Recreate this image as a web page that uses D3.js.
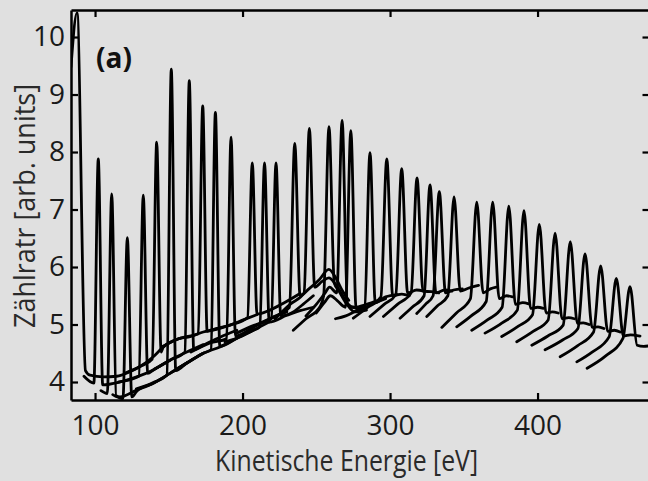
<!DOCTYPE html>
<html>
<head>
<meta charset="utf-8">
<script src="https://cdn.jsdelivr.net/npm/d3@7"></script>
<style>
    body { margin: 0; background: #e0e0e0; }
    text { font-family: "Open Sans", sans-serif; }
</style>
</head>
<body>
<div id="chart"></div>
<script>
// tick values
const xTicks = [100, 200, 300, 400];
const yTicks = [4, 5, 6, 7, 8, 9, 10];

// spectra: [kinetic energy (eV), count rate]
const lowSpectra = [
    [[83.7, 9.48], [87.8, 10.42], [93.5, 4.2], [96.6, 4.12], [105.6, 4.09], [114.7, 4.1], [123.7, 4.18], [130.5, 4.27], [139.5, 4.44], [146.3, 4.61], [157.6, 4.76]],
    [[92.5, 4.1], [99.2, 3.98], [102.2, 7.88], [105.2, 3.95], [116.9, 4.0], [128.3, 4.09], [139.5, 4.21], [150.8, 4.38]],
    [[104, 3.85], [108.3, 3.8], [111.3, 7.27], [114.3, 3.76], [116.9, 3.74], [128.3, 3.86], [139.5, 3.98], [150.8, 4.15], [162.2, 4.33]],
    [[112, 3.78], [118.9, 3.71], [121.9, 6.51], [124.9, 3.74], [128.3, 3.84], [139.5, 3.98], [150.8, 4.15], [162.2, 4.33], [173.4, 4.5]],
    [[116, 4.0], [129.7, 4.1], [132.7, 7.25], [135.7, 4.15], [139.5, 4.21], [150.8, 4.38], [162.2, 4.52], [173.4, 4.65]],
    [[120, 4.15], [130.5, 4.27], [138.8, 4.4], [141.8, 8.17], [144.8, 4.52], [146.3, 4.61], [157.6, 4.76], [164.4, 4.79], [173.4, 4.87], [182.5, 4.93]],
    [[128, 3.88], [139.5, 3.99], [148.7, 4.12], [151.7, 9.44], [154.7, 4.2], [162.2, 4.33], [173.4, 4.5], [184.7, 4.61], [196.1, 4.76]],
    [[140, 4.22], [150.8, 4.38], [160.9, 4.52], [163.9, 9.24], [166.9, 4.56], [173.4, 4.64], [184.7, 4.78], [196.1, 4.9]],
    [[146, 4.62], [157.6, 4.76], [170, 4.84], [173, 8.8], [176, 4.88], [182.5, 4.93], [191.5, 4.99], [200.5, 5.08], [209.6, 5.17]],
    [[155, 4.22], [162.2, 4.33], [173.4, 4.5], [178.6, 4.56], [181.6, 8.69], [184.6, 4.62], [196.1, 4.76], [207.3, 4.9], [218.6, 5.05]],
    [[165, 4.52], [178, 4.68], [189.2, 4.75], [192.2, 8.26], [195.2, 4.8], [207.3, 4.95], [218.6, 5.1], [230, 5.22]],
    [[180, 4.9], [191.5, 4.99], [203.4, 5.12], [206.6, 7.81], [209.8, 5.18], [218.6, 5.25], [227.7, 5.37], [239, 5.54]],
    [[188, 4.7], [196.1, 4.76], [207.3, 4.9], [211.7, 4.96], [214.9, 7.81], [218.1, 5.04], [230, 5.16], [239, 5.24], [248, 5.3]],
    [[196, 4.85], [207.3, 4.98], [219.5, 5.1], [222.7, 7.81], [225.9, 5.15], [234.4, 5.22], [241, 5.35], [248, 5.5]]
];

const midSpectra = [
    [[210, 5.0], [220, 5.12], [231.8, 5.3], [235.4, 8.15], [239, 5.5], [245, 5.62], [252, 5.78], [258.5, 5.96], [263, 5.82], [267, 5.62], [272, 5.42]],
    [[222, 5.1], [232.2, 5.35], [241.7, 5.55], [245.3, 8.41], [248.9, 5.65], [254, 5.75], [258.5, 5.81], [263, 5.7], [268, 5.5], [274, 5.3], [282, 5.28]],
    [[234.4, 4.9], [243, 5.1], [252.5, 5.31], [255, 5.5], [258.6, 8.44], [262.2, 5.72], [265, 5.6], [270, 5.38], [276, 5.22], [284, 5.25]],
    [[243, 5.15], [250, 5.35], [256, 5.55], [259, 5.65], [263.9, 5.55], [267.5, 8.55], [271.1, 5.35], [276, 5.3], [284, 5.35], [292, 5.42]],
    [[250, 5.2], [256, 5.4], [259.5, 5.5], [264, 5.42], [269.8, 5.3], [273.4, 8.37], [277, 5.28], [283, 5.3], [290, 5.38], [297, 5.45]],
    [[263, 5.1], [270, 5.15], [278, 5.25], [282.8, 5.3], [286.4, 7.99], [290, 5.38], [297, 5.48], [305, 5.52]]
];

const highSpectra = [
    [[275.1, 5.11], [285, 5.3], [293.8, 5.48], [297.8, 7.88], [301.8, 5.5], [308, 5.53], [313, 5.5]],
    [[286.4, 5.14], [296, 5.35], [303.9, 5.52], [307.9, 7.71], [311.9, 5.55], [318, 5.6], [323, 5.58]],
    [[295.5, 5.14], [305, 5.35], [314.3, 5.55], [318.3, 7.55], [322.3, 5.58], [328, 5.57], [333, 5.55]],
    [[306.8, 5.11], [315, 5.3], [323.1, 5.5], [327.1, 7.43], [331.1, 5.55], [337, 5.6], [342, 5.58]],
    [[318.1, 5.19], [324, 5.35], [329.2, 5.5], [333.4, 7.31], [337.6, 5.55], [343, 5.6], [349, 5.62]],
    [[324.9, 5.14], [332, 5.32], [339.2, 5.5], [343.4, 7.22], [347.6, 5.58], [353, 5.63], [360, 5.68]],
    [[335.1, 4.95], [345, 5.2], [354.5, 5.45], [358.8, 7.13], [363.1, 5.55], [368, 5.62], [372, 5.65]],
    [[345.2, 4.96], [355, 5.15], [365.2, 5.4], [369.6, 7.13], [374, 5.45], [379, 5.5], [383, 5.48]],
    [[355.4, 4.9], [366, 5.08], [376, 5.3], [380.5, 7.06], [385, 5.35], [390, 5.38], [394, 5.36]],
    [[364.4, 4.85], [376, 5.03], [386.3, 5.25], [390.8, 6.98], [395.3, 5.28], [400, 5.3], [404, 5.28]],
    [[375.7, 4.79], [387, 4.97], [396.6, 5.17], [401.2, 6.74], [405.8, 5.2], [410, 5.22], [414, 5.2]],
    [[385.9, 4.7], [397, 4.88], [407.2, 5.08], [411.9, 6.59], [416.6, 5.1], [421, 5.12], [425, 5.1]],
    [[396.1, 4.64], [407, 4.8], [417.4, 4.99], [422.2, 6.44], [427, 5.02], [431, 5.03], [435, 5.0]],
    [[405.1, 4.56], [417, 4.73], [427.4, 4.93], [432.2, 6.23], [437, 4.95], [441, 4.96], [445, 4.93]],
    [[415.3, 4.44], [427, 4.63], [438, 4.87], [442.8, 6.02], [447.6, 4.88], [452, 4.9], [456, 4.87]],
    [[426.6, 4.35], [437, 4.52], [448.6, 4.79], [453.4, 5.8], [458.2, 4.8], [463, 4.82], [469.5, 4.8]],
    [[433.6, 4.24], [446, 4.45], [457.9, 4.76], [462.7, 5.66], [467.5, 4.64], [472, 4.62], [476, 4.63]]
];

const width = 648;
const height = 481;
const plot = { left: 71, top: 10, right: 649.5, bottom: 400 };

const svg = d3.select('#chart')
    .append('svg')
    .attr('width', width)
    .attr('height', height)
    .style('display', 'block')
    .style('background', '#e0e0e0');

const xScale = d3.scaleLinear()
    .domain([83.7, 475.9])
    .range([plot.left, plot.right]);

const yScale = d3.scaleLinear()
    .domain([3.687, 10.47])
    .range([plot.bottom, plot.top]);

/* clip so the spectra stay inside the frame */
svg.append('clipPath')
    .attr('id', 'plot-clip')
    .append('rect')
    .attr('x', plot.left)
    .attr('y', plot.top)
    .attr('width', plot.right - plot.left)
    .attr('height', plot.bottom - plot.top);

const line = d3.line()
    .x(d => xScale(d[0]))
    .y(d => yScale(d[1]))
    .curve(d3.curveMonotoneX);

svg.append('g')
    .attr('clip-path', 'url(#plot-clip)')
    .selectAll('path')
    .data(lowSpectra.concat(midSpectra, highSpectra))
    .enter()
    .append('path')
    .attr('d', line)
    .attr('fill', 'none')
    .attr('stroke', '#000')
    .attr('stroke-width', 2.8)
    .attr('stroke-linejoin', 'round')
    .attr('stroke-linecap', 'round');

/* axes, ticks pointing inwards */
function styleAxis(g) {
    g.select('.domain').attr('stroke', '#000').attr('stroke-width', 2.5);
    g.selectAll('.tick line').attr('stroke', '#000').attr('stroke-width', 2.2);
    g.selectAll('.tick text')
        .attr('fill', '#1a1a1a')
        .style('font-size', '28px')
        .style('font-family', '"Open Sans", sans-serif');
}

svg.append('g')
    .attr('transform', `translate(0,${plot.bottom})`)
    .call(d3.axisBottom(xScale).tickValues(xTicks).tickSize(-7).tickSizeOuter(0).tickPadding(15).tickFormat(d3.format('d')))
    .call(styleAxis);

svg.append('g')
    .attr('transform', `translate(0,${plot.top})`)
    .call(d3.axisTop(xScale).tickValues(xTicks).tickSize(-7).tickSizeOuter(0).tickFormat(''))
    .call(styleAxis);

svg.append('g')
    .attr('transform', `translate(${plot.left},0)`)
    .call(d3.axisLeft(yScale).tickValues(yTicks).tickSize(-7).tickSizeOuter(0).tickPadding(6).tickFormat(d3.format('d')))
    .call(styleAxis);

svg.append('g')
    .attr('transform', `translate(${plot.right},0)`)
    .call(d3.axisRight(yScale).tickValues(yTicks).tickSize(-7).tickSizeOuter(0).tickFormat(''))
    .call(styleAxis);

/* x Label */
svg.append('text')
    .text('Kinetische Energie [eV]')
    .attr('x', 215)
    .attr('y', 471)
    .attr('textLength', 263)
    .attr('lengthAdjust', 'spacingAndGlyphs')
    .attr('fill', '#2a2a2a')
    .style('font-size', '29px');

/* y Label */
svg.append('text')
    .text('Zählratr [arb. units]')
    .attr('transform', 'translate(35,328) rotate(-90)')
    .attr('textLength', 244)
    .attr('lengthAdjust', 'spacingAndGlyphs')
    .attr('fill', '#2a2a2a')
    .style('font-size', '29px');

/* panel label */
svg.append('text')
    .text('(a)')
    .attr('x', 96)
    .attr('y', 68)
    .attr('fill', '#111')
    .style('font-size', '28px')
    .style('font-weight', 'bold');
</script>
</body>
</html>
